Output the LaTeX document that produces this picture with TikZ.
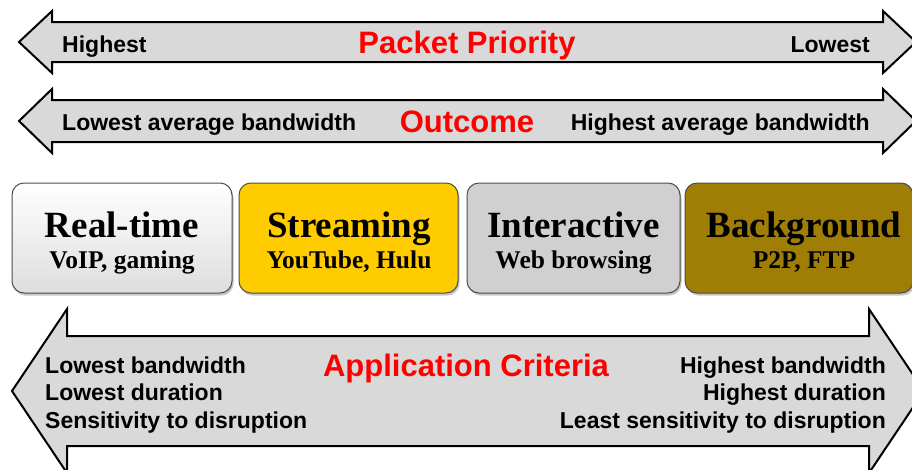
\documentclass[tikz,border=0pt]{standalone}
\usepackage{fontspec}
\setmainfont{Liberation Sans}
\newfontfamily\classfont{Liberation Serif}
\usetikzlibrary{shadows}
\definecolor{arrowGray}{HTML}{D9D9D9}
\definecolor{streamGold}{HTML}{FFCC00}
\definecolor{interGray}{HTML}{D0D0D0}
\definecolor{backBrown}{HTML}{A07D05}
\begin{document}
\begin{tikzpicture}
[x=1pt,y=-1pt,
bigArrow/.style={draw=black,fill=arrowGray,line width=2pt,line join=miter},
titleLabel/.style={text=red,font=\fontsize{31}{31}\selectfont\bfseries,inner sep=0pt},
sideLabel/.style={font=\fontsize{23}{23}\selectfont\bfseries,inner sep=0pt},
classBox/.style={draw=black!70,line width=1pt,rounded corners=12pt,minimum height=110pt,
  drop shadow={shadow xshift=1.5pt,shadow yshift=-2.5pt,opacity=.45}},
classTitle/.style={font=\fontsize{37}{37}\selectfont\classfont\bfseries,inner sep=0pt},
classSub/.style={font=\fontsize{25.5}{25.5}\selectfont\classfont\bfseries,inner sep=0pt},
]
\useasboundingbox (0,0) rectangle (912,469);
\clip (0,0) rectangle (912,469);
% priority arrow
\draw[bigArrow] (19,42) -- (52,11) -- (52,22) -- (883,22) -- (883,11) -- (916,42)
  -- (883,73) -- (883,62) -- (52,62) -- (52,73) -- cycle;
\node[sideLabel,anchor=base west] (prioHigh) at (62,52) {Highest};
\node[titleLabel,anchor=base] (prio) at (467,53) {Packet Priority};
\node[sideLabel,anchor=base east] (prioLow) at (870,52) {Lowest};
% outcome arrow
\draw[bigArrow] (19,121) -- (52,89) -- (52,100) -- (883,100) -- (883,89) -- (916,121)
  -- (883,153) -- (883,142) -- (52,142) -- (52,153) -- cycle;
\node[sideLabel,anchor=base west] (outLow) at (62,130) {Lowest average bandwidth};
\node[titleLabel,anchor=base] (outcome) at (467,132) {Outcome};
\node[sideLabel,anchor=base east] (outHigh) at (870,130) {Highest average bandwidth};
% traffic classes
\node[classBox,minimum width=220pt,top color=white,bottom color=black!13] (realTime) at (122,238) {};
\node[classBox,minimum width=219pt,fill=streamGold] (streaming) at (348.5,238) {};
\node[classBox,minimum width=213pt,fill=interGray] (interactive) at (573.5,238) {};
\node[classBox,minimum width=228pt,fill=backBrown] (background) at (799,238) {};
\node[classTitle,anchor=base] (realTimeT) at (122,237) {Real-time};
\node[classSub,anchor=base] (realTimeS) at (122,268) {VoIP, gaming};
\node[classTitle,anchor=base] (streamingT) at (349,237) {Streaming};
\node[classSub,anchor=base] (streamingS) at (349,268) {YouTube, Hulu};
\node[classTitle,anchor=base] (interactiveT) at (573.5,237) {Interactive};
\node[classSub,anchor=base] (interactiveS) at (573.5,268) {Web browsing};
\node[classTitle,anchor=base] (backgroundT) at (804,237) {Background};
\node[classSub,anchor=base] (backgroundS) at (804,268) {P2P, FTP};
% criteria arrow
\draw[bigArrow] (12,391) -- (67,309) -- (67,336) -- (869,336) -- (869,309) -- (924,391)
  -- (869,473) -- (869,446) -- (67,446) -- (67,473) -- cycle;
\node[titleLabel,anchor=base] (criteria) at (466,376) {Application Criteria};
\node[sideLabel,anchor=base west] (critLowA) at (45,373) {Lowest bandwidth};
\node[sideLabel,anchor=base west] (critLowB) at (45,400) {Lowest duration};
\node[sideLabel,anchor=base west] (critLowC) at (45,428) {Sensitivity to disruption};
\node[sideLabel,anchor=base east] (critHighA) at (886,373) {Highest bandwidth};
\node[sideLabel,anchor=base east] (critHighB) at (886,400) {Highest duration};
\node[sideLabel,anchor=base east] (critHighC) at (886,428) {Least sensitivity to disruption};
\end{tikzpicture}
\end{document}
